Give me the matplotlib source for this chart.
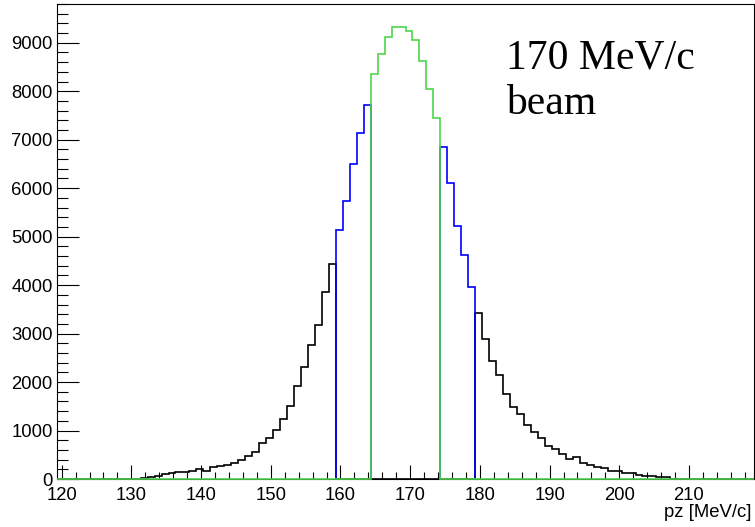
import numpy as np
import matplotlib
matplotlib.use("Agg")
import matplotlib.pyplot as plt
from matplotlib.ticker import MultipleLocator

# pz histogram, 1 MeV/c bins starting at 119.33
x_lo = 119.33
n_bins = 100

# bin contents
black_left = [25, 50, 70, 100, 115, 140, 140, 160, 210, 175, 255, 275, 280, 330,
              400, 475, 565, 750, 850, 1005, 1235, 1505, 1910, 2320, 2765, 3180,
              3855, 4430]                     # 131.3 .. 158.3
blue_left = [5145, 5745, 6495, 7140, 7710]    # 159.3 .. 163.3
core = [8350, 8760, 9125, 9335, 9335, 9240, 9050, 8615, 8045, 7445]  # 164.3 .. 173.3
blue_right = [6855, 6100, 5230, 4625, 3970]   # 174.3 .. 178.3
black_right = [3430, 2890, 2430, 2140, 1750, 1480, 1350, 1105, 975, 845, 675,
               610, 525, 420, 445, 325, 280, 245, 220, 175, 170, 130, 125, 75,
               70, 70, 50, 45]                # 179.3 .. 206.3

edges = x_lo + np.arange(n_bins + 1)

black = np.zeros(n_bins)
black[12:40] = black_left
black[60:88] = black_right
green = np.zeros(n_bins)
green[45:55] = core

fig = plt.figure(figsize=(7.55, 5.27), dpi=100)
ax = fig.add_axes([57 / 755, 48 / 527, 697 / 755, 475 / 527])

ax.stairs(black, edges, baseline=0, color="black", lw=1.2, zorder=3, clip_on=False)
ax.stairs(blue_left, edges[40:46], baseline=0, color="#0000ff", lw=1.2, zorder=4, clip_on=False)
ax.stairs(blue_right, edges[55:61], baseline=0, color="#0000ff", lw=1.2, zorder=4, clip_on=False)
ax.stairs(green, edges, baseline=0, color="#4fd44c", lw=1.2, zorder=5, clip_on=False)

ax.set_xlim(edges[0], edges[-1])
ax.set_ylim(0, 9800)

ax.xaxis.set_major_locator(MultipleLocator(10))
ax.xaxis.set_minor_locator(MultipleLocator(2))
ax.yaxis.set_major_locator(MultipleLocator(1000))
ax.yaxis.set_minor_locator(MultipleLocator(200))

font = "Liberation Sans"
ax.tick_params(axis="x", which="major", direction="in", length=10, width=0.8, pad=6,
               labelsize=13.3, top=False)
ax.tick_params(axis="x", which="minor", direction="in", length=5, width=0.8, top=False)
ax.tick_params(axis="y", which="major", direction="in", length=16, width=0.8, pad=3,
               labelsize=13.3, right=False)
ax.tick_params(axis="y", which="minor", direction="in", length=8, width=0.8, right=False)
for lab in ax.get_xticklabels() + ax.get_yticklabels():
    lab.set_fontfamily(font)

for sp in ax.spines.values():
    sp.set_linewidth(0.8)

fig.text(752 / 755, 1 - 517 / 527, "pz [MeV/c]", ha="right", va="baseline",
         fontsize=13.3, family=font)

fig.text(506 / 755, 1 - 69 / 527, "170 MeV/c", ha="left", va="baseline",
         fontsize=30, family="Liberation Serif")
fig.text(506 / 755, 1 - 114 / 527, "beam", ha="left", va="baseline",
         fontsize=30, family="Liberation Serif")

fig.savefig("out.png", dpi=100)
